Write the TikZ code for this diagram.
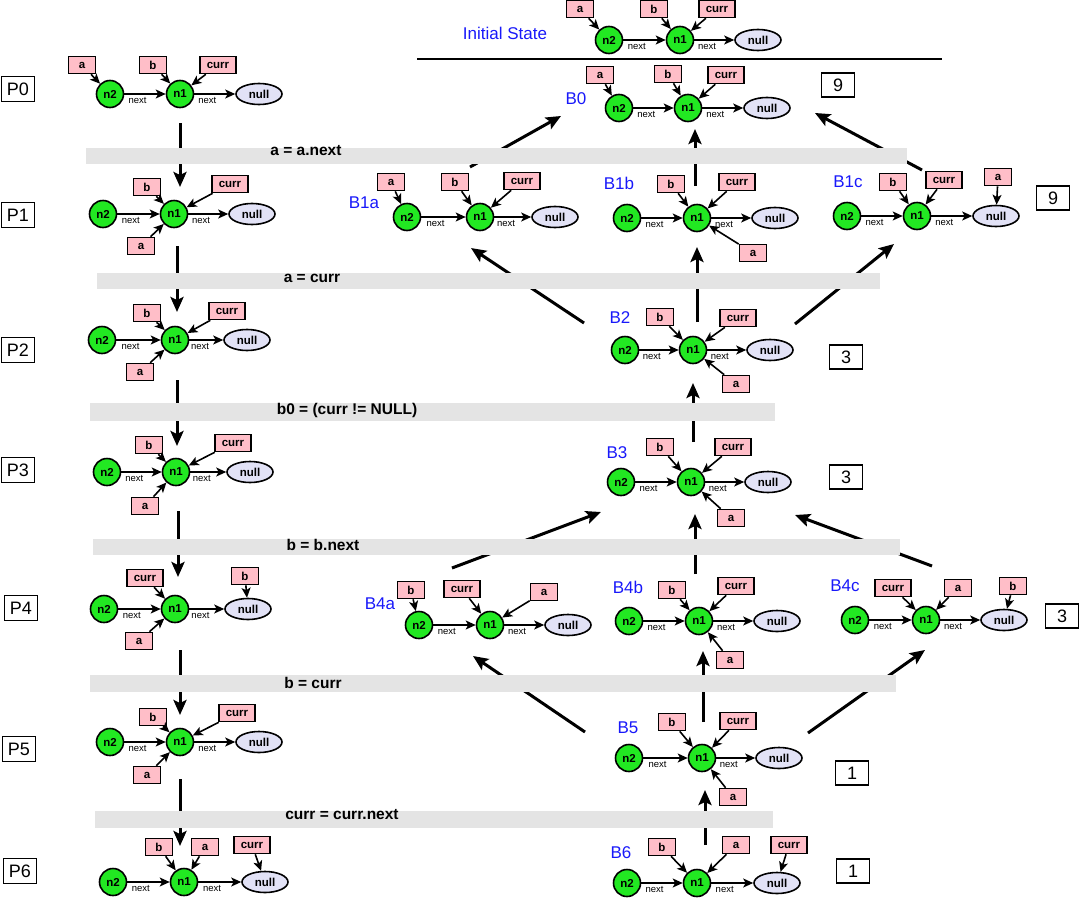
\documentclass[tikz,border=0pt]{standalone}
\usepackage{fontspec}
\setmainfont{Liberation Sans}
\usetikzlibrary{arrows.meta,shapes.geometric}
\definecolor{ndgreen}{RGB}{34,232,34}
\definecolor{nullc}{RGB}{226,226,246}
\definecolor{pinkc}{RGB}{255,190,200}
\definecolor{barc}{RGB}{228,228,228}
\definecolor{lblblue}{RGB}{25,25,250}
\newcommand\lst[5]{%
  \node[nd] (#1n2) at (#2,#5) {n2};
  \node[nd] (#1n1) at (#3,#5) {n1};
  \node[nl] (#1nl) at (#4,#5) {null};
  \draw[parr] (#1n2) -- node[nxt] {next} (#1n1);
  \draw[parr] (#1n1) -- node[nxt] {next} (#1nl);
}
\newcommand\ptrbox[5]{%
  \node[pbox] (#1) at (#2,#3) {#4};
  \draw[parr] (#1) -- (#5);
}
\begin{document}
\begin{tikzpicture}[x=1pt,y=-1pt,
  nd/.style={circle,draw,line width=1.6pt,fill=ndgreen,minimum size=27pt,inner sep=0pt,font=\bfseries\fontsize{11.5}{12}\selectfont},
  nl/.style={ellipse,draw,line width=1.6pt,fill=nullc,minimum width=46pt,minimum height=21pt,inner sep=0pt,font=\bfseries\fontsize{11.5}{12}\selectfont},
  pbox/.style={rectangle,draw,line width=1.6pt,fill=pinkc,minimum width=27pt,minimum height=17pt,inner ysep=0pt,inner xsep=7pt,font=\bfseries\fontsize{11.5}{12}\selectfont},
  parr/.style={line width=1.6pt,-{Stealth[length=10pt,width=9pt,inset=2.5pt]}},
  tarr/.style={line width=3pt,-{Stealth[length=15pt,width=13pt,inset=3pt]}},
  nxt/.style={pos=0.32,below=2.5pt,inner sep=0pt,font=\fontsize{9.5}{10}\selectfont},
  bar/.style={fill=barc,draw=none,inner sep=0pt},
  barlbl/.style={inner sep=0pt,font=\bfseries\fontsize{15.5}{16}\selectfont},
  plbl/.style={rectangle,draw,line width=1.5pt,minimum width=33pt,minimum height=25pt,inner sep=0pt,font=\fontsize{18}{18}\selectfont},
  numbox/.style={rectangle,draw,line width=1.5pt,minimum width=33pt,minimum height=24pt,inner sep=0pt,font=\fontsize{18}{18}\selectfont},
  blbl/.style={inner sep=0pt,text=lblblue,font=\fontsize{17}{17}\selectfont}]
\useasboundingbox (0,0) rectangle (1080,900);
\fill[white] (0,0) rectangle (1080,900);

% ---------- transition connectors (behind the bars) ----------
\coordinate (l01s) at (180,123); \coordinate (l01e) at (180,187);
\coordinate (l12s) at (177,246); \coordinate (l12e) at (177,312);
\coordinate (l23s) at (177,380); \coordinate (l23e) at (177,446);
\coordinate (l34s) at (178,511); \coordinate (l34e) at (178,577);
\coordinate (l45s) at (180,650); \coordinate (l45e) at (180,715);
\coordinate (l56s) at (180,779); \coordinate (l56e) at (180,846);
\foreach \i in {01,12,23,34,45,56} {\draw[tarr] (l\i s) -- (l\i e);}

\coordinate (r1as) at (470,167); \coordinate (r1ae) at (561,116);
\coordinate (r1bs) at (695,186); \coordinate (r1be) at (695,129);
\coordinate (r1cs) at (922,170); \coordinate (r1ce) at (815,113);
\coordinate (r2as) at (584,323); \coordinate (r2ae) at (471,248);
\coordinate (r2bs) at (697,322); \coordinate (r2be) at (697,247);
\coordinate (r2cs) at (795,324); \coordinate (r2ce) at (894,244);
\coordinate (r3s) at (693,442); \coordinate (r3e) at (693,383);
\coordinate (r4as) at (452,568); \coordinate (r4ae) at (601,512);
\coordinate (r4bs) at (695,574); \coordinate (r4be) at (695,514);
\coordinate (r4cs) at (932,566); \coordinate (r4ce) at (795,515);
\coordinate (r5as) at (585,732); \coordinate (r5ae) at (473,656);
\coordinate (r5bs) at (703,722); \coordinate (r5be) at (703,651);
\coordinate (r5cs) at (808,733); \coordinate (r5ce) at (925,650);
\coordinate (r6s) at (705,845); \coordinate (r6e) at (705,790);
\foreach \i in {1a,1b,1c,2a,2b,2c,3,4a,4b,4c,5a,5b,5c,6} {\draw[tarr] (r\i s) -- (r\i e);}

% ---------- bars ----------
\node[bar,minimum width=821pt,minimum height=16pt] (bar1) at (496.5,156) {};
\node[bar,minimum width=783pt,minimum height=16pt] (bar2) at (488.5,281) {};
\node[bar,minimum width=685pt,minimum height=18pt] (bar3) at (432.5,412) {};
\node[bar,minimum width=807pt,minimum height=16pt] (bar4) at (496.5,547) {};
\node[bar,minimum width=806pt,minimum height=17pt] (bar5) at (493,683.5) {};
\node[bar,minimum width=678pt,minimum height=17pt] (bar6) at (434,819.5) {};
\node[barlbl] (t1) at (306,151) {a = a.next};
\node[barlbl] (t2) at (312,278) {a = curr};
\node[barlbl] (t3) at (347,410) {b0 = (curr != NULL)};
\node[barlbl] (t4) at (323,545) {b = b.next};
\node[barlbl] (t5) at (313,683) {b = curr};
\node[barlbl] (t6) at (342,815) {curr = curr.next};

% ---------- initial state ----------
\node[blbl] (initl) at (505,33) {Initial State};
\coordinate (hl1) at (417,59); \coordinate (hl2) at (942,59);
\draw[line width=2.8pt] (hl1) -- (hl2);
\lst{I}{609}{680}{758}{40}
\ptrbox{Ia}{580}{9}{a}{In2}
\ptrbox{Ib}{654}{9}{b}{In1}
\ptrbox{Ic}{717}{9}{curr}{In1}

% ---------- left column ----------
\node[plbl] (P0) at (18,89) {P0};
\node[plbl] (P1) at (18,215) {P1};
\node[plbl] (P2) at (18,350) {P2};
\node[plbl] (P3) at (18,470) {P3};
\node[plbl] (P4) at (21,608) {P4};
\node[plbl] (P5) at (19,749) {P5};
\node[plbl] (P6) at (20,871) {P6};

\lst{Pz}{110}{180}{259}{94}
\ptrbox{Pza}{82}{65}{a}{Pzn2}
\ptrbox{Pzb}{153}{65}{b}{Pzn1}
\ptrbox{Pzc}{218}{65}{curr}{Pzn1}

\lst{Po}{103}{174}{252}{214}
\ptrbox{Pob}{147}{187}{b}{Pon1}
\ptrbox{Poc}{230}{184}{curr}{Pon1}
\ptrbox{Poa}{141}{246}{a}{Pon1}

\lst{Pt}{102}{175}{247}{340}
\ptrbox{Ptb}{147}{313}{b}{Ptn1}
\ptrbox{Ptc}{227}{311}{curr}{Ptn1}
\ptrbox{Pta}{140}{372}{a}{Ptn1}

\lst{Ph}{107}{176}{250}{472}
\ptrbox{Phb}{149}{445}{b}{Phn1}
\ptrbox{Phc}{233}{443}{curr}{Phn1}
\ptrbox{Pha}{145}{506}{a}{Phn1}

\lst{Pf}{104}{175}{248}{609}
\ptrbox{Pfc}{145}{578}{curr}{Pfn1}
\ptrbox{Pfb}{245}{576}{b}{Pfnl}
\ptrbox{Pfa}{139}{641}{a}{Pfn1}

\lst{Pv}{110}{180}{259}{742}
\ptrbox{Pvb}{153}{717}{b}{Pvn1}
\ptrbox{Pvc}{237}{713}{curr}{Pvn1}
\ptrbox{Pva}{147}{775}{a}{Pvn1}

\lst{Ps}{113}{184}{265}{882}
\ptrbox{Psb}{159}{847}{b}{Psn1}
\ptrbox{Psa}{205}{847}{a}{Psn1}
\ptrbox{Psc}{252}{845}{curr}{Psnl}

% ---------- right side ----------
\node[blbl] (lB0) at (576,99) {B0};
\lst{Bz}{619}{688}{767}{108}
\ptrbox{Bza}{600}{75}{a}{Bzn2}
\ptrbox{Bzb}{668}{74}{b}{Bzn1}
\ptrbox{Bzc}{726}{75}{curr}{Bzn1}
\node[numbox] (nB0) at (838,85) {9};

\node[blbl] (lB1a) at (364,203) {B1a};
\lst{Ba}{407}{480}{555}{217}
\ptrbox{Baa}{391}{182}{a}{Ban2}
\ptrbox{Bab}{455}{182}{b}{Ban1}
\ptrbox{Bac}{522}{181}{curr}{Ban1}

\node[blbl] (lB1b) at (619,183) {B1b};
\lst{Bb}{627}{697}{775}{218}
\ptrbox{Bbb}{671}{184}{b}{Bbn1}
\ptrbox{Bbc}{737}{182}{curr}{Bbn1}
\ptrbox{Bba}{753}{253}{a}{Bbn1}

\node[blbl] (lB1c) at (848,182) {B1c};
\lst{Bc}{847}{917}{996}{216}
\ptrbox{Bcb}{893}{182}{b}{Bcn1}
\ptrbox{Bcc}{944}{180}{curr}{Bcn1}
\ptrbox{Bca}{998}{177}{a}{Bcnl}
\node[numbox] (nB1) at (1053,198) {9};

\node[blbl] (lB2) at (620,318) {B2};
\lst{Bd}{625}{693}{770}{350}
\ptrbox{Bdb}{660}{317}{b}{Bdn1}
\ptrbox{Bdc}{738}{318}{curr}{Bdn1}
\ptrbox{Bda}{736}{384}{a}{Bdn1}
\node[numbox] (nB2) at (846,357) {3};

\node[blbl] (lB3) at (617,453) {B3};
\lst{Be}{621}{691}{768}{482}
\ptrbox{Beb}{660}{447}{b}{Ben1}
\ptrbox{Bec}{733}{447}{curr}{Ben1}
\ptrbox{Bea}{731}{518}{a}{Ben1}
\node[numbox] (nB3) at (846,477) {3};

\node[blbl] (lB4a) at (380,604) {B4a};
\lst{Bf}{419}{490}{568}{625}
\ptrbox{Bfb}{411}{590}{b}{Bfn2}
\ptrbox{Bfc}{462}{589}{curr}{Bfn1}
\ptrbox{Bfa}{544}{592}{a}{Bfn1}

\node[blbl] (lB4b) at (628,587) {B4b};
\lst{Bg}{629}{699}{777}{621}
\ptrbox{Bgb}{672}{590}{b}{Bgn1}
\ptrbox{Bgc}{736}{586}{curr}{Bgn1}
\ptrbox{Bga}{730}{660}{a}{Bgn1}

\node[blbl] (lB4c) at (845,586) {B4c};
\lst{Bh}{855}{926}{1004}{620}
\ptrbox{Bhc}{893}{588}{curr}{Bhn1}
\ptrbox{Bha}{958}{588}{a}{Bhn1}
\ptrbox{Bhb}{1013}{586}{b}{Bhnl}
\node[numbox] (nB4) at (1062,616) {3};

\node[blbl] (lB5) at (628,728) {B5};
\lst{Bi}{629}{702}{779}{758}
\ptrbox{Bib}{672}{722}{b}{Bin1}
\ptrbox{Bic}{738}{721}{curr}{Bin1}
\ptrbox{Bia}{733}{797}{a}{Bin1}
\node[numbox] (nB5) at (852,773) {1};

\node[blbl] (lB6) at (621,853) {B6};
\lst{Bj}{627}{697}{777}{883}
\ptrbox{Bjb}{662}{847}{b}{Bjn1}
\ptrbox{Bja}{736}{845}{a}{Bjn1}
\ptrbox{Bjc}{789}{845}{curr}{Bjnl}
\node[numbox] (nB6) at (853,871) {1};
\end{tikzpicture}
\end{document}
